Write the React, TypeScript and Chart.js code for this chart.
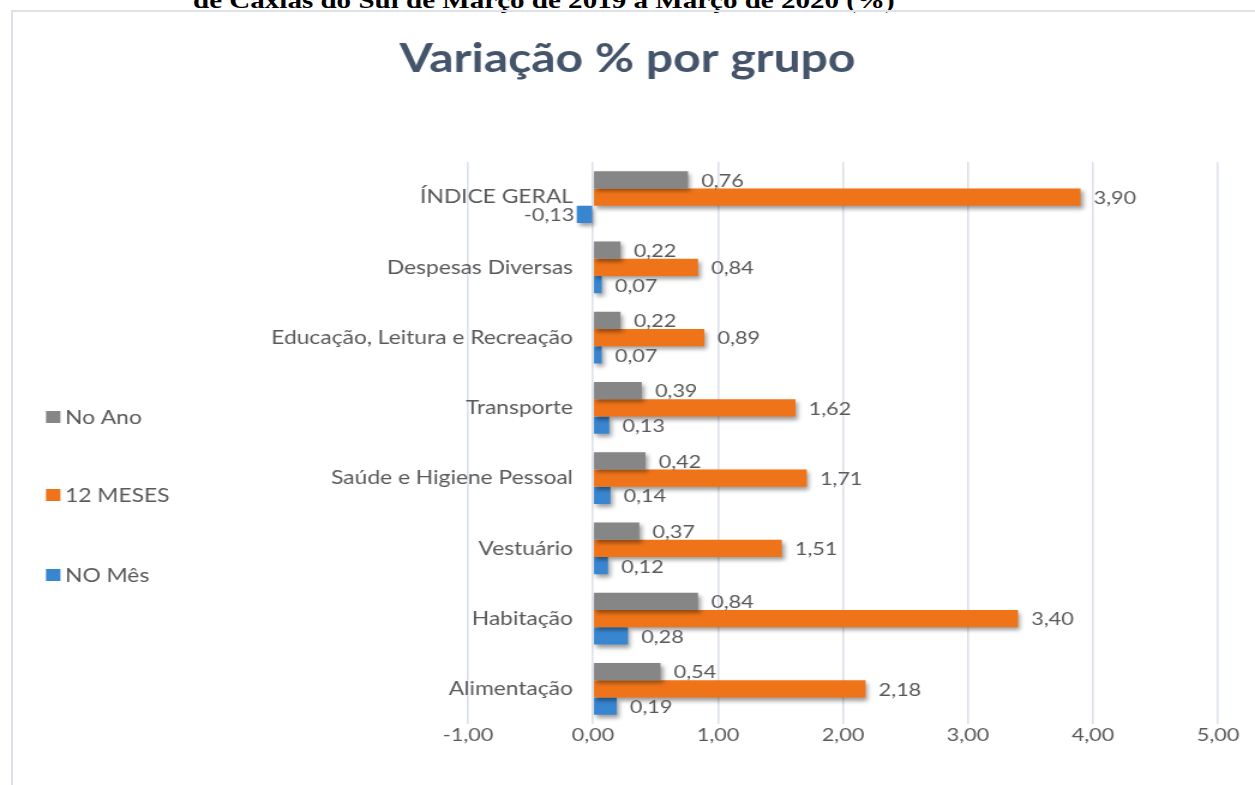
import React, { useEffect, useRef } from "react";
import { Chart, registerables } from "chart.js";

Chart.register(...registerables);

// ---- data ----
const categories = [
  "ÍNDICE GERAL",
  "Despesas Diversas",
  "Educação, Leitura e Recreação",
  "Transporte",
  "Saúde e Higiene Pessoal",
  "Vestuário",
  "Habitação",
  "Alimentação",
];
const seriesNames = ["No Ano", "12 MESES", "NO Mês"];
const noAno = [0.76, 0.22, 0.22, 0.39, 0.42, 0.37, 0.84, 0.54];
const dozeMeses = [3.9, 0.84, 0.89, 1.62, 1.71, 1.51, 3.4, 2.18];
const noMes = [-0.13, 0.07, 0.07, 0.13, 0.14, 0.12, 0.28, 0.19];
const xTicks = [-1, 0, 1, 2, 3, 4, 5];
const chartTitle = "Variação % por grupo";
const headerText = "de Caxias do Sul de Março de 2019 a Março de 2020 (%)";

// ---- layout (canvas drawn narrower, stretched horizontally by CSS) ----
const CW = 1046;
const CH = 785;
const SX = 1255 / CW;
const FONT = "Lato";
const TEXT = "#595959";
const Y_FONT_SIZE = 19;

const fmt = (v: number) => v.toFixed(2).replace(".", ",");

const barShadow = {
  id: "barShadow",
  beforeDatasetsDraw(chart: any) {
    const c = chart.ctx;
    c.save();
    c.shadowColor = "rgba(0,0,0,0.38)";
    c.shadowBlur = 4;
    c.shadowOffsetX = 2;
    c.shadowOffsetY = 3;
  },
  afterDatasetsDraw(chart: any) {
    chart.ctx.restore();
  },
};

const valueLabels = {
  id: "valueLabels",
  afterDatasetsDraw(chart: any) {
    const c = chart.ctx;
    c.save();
    c.shadowColor = "transparent";
    c.font = `18px ${FONT}`;
    c.fillStyle = TEXT;
    c.textBaseline = "middle";
    chart.data.datasets.forEach((ds: any, di: number) => {
      const meta = chart.getDatasetMeta(di);
      meta.data.forEach((el: any, i: number) => {
        const v = ds.data[i] as number;
        const { x, y } = el.getProps(["x", "y"], true);
        if (v >= 0) {
          c.textAlign = "left";
          c.fillText(fmt(v), x + 11, y + 1);
        } else {
          c.textAlign = "right";
          c.fillText(fmt(v), x - 2, y + 1);
        }
      });
    });
    c.restore();
  },
};

const legendYs = [417, 495, 575];
const customLegend = {
  id: "customLegend",
  afterDraw(chart: any) {
    const c = chart.ctx;
    c.save();
    c.font = `19px ${FONT}`;
    c.textBaseline = "middle";
    c.textAlign = "left";
    chart.data.datasets.forEach((ds: any, i: number) => {
      const y = legendYs[i];
      c.fillStyle = ds.backgroundColor;
      c.fillRect(46 / SX, y - 6, 12, 12);
      c.fillStyle = TEXT;
      c.fillText(ds.label, 65 / SX, y + 1);
    });
    c.restore();
  },
};

export default function App() {
  const ref = useRef<HTMLCanvasElement | null>(null);

  useEffect(() => {
    if (!ref.current) return;
    Chart.defaults.font.family = FONT;

    // widest category label, so the mirrored labels end right-aligned at the wanted x
    const m = document.createElement("canvas").getContext("2d")!;
    m.font = `${Y_FONT_SIZE}px ${FONT}`;
    const widest = Math.max(...categories.map((c) => m.measureText(c).width));
    const yAxisWidth = 468 / SX;
    const labelRight = 573 / SX;

    const chart = new Chart(ref.current, {
      type: "bar",
      data: {
        labels: categories,
        datasets: [
          { label: seriesNames[0], data: noAno, backgroundColor: "#868686" },
          { label: seriesNames[1], data: dozeMeses, backgroundColor: "#EF7419" },
          { label: seriesNames[2], data: noMes, backgroundColor: "#3886D0" },
        ],
      },
      options: {
        indexAxis: "y",
        responsive: false,
        animation: false,
        events: [],
        datasets: {
          bar: { categoryPercentage: 0.74, barPercentage: 1 },
        },
        layout: { padding: 0 },
        plugins: {
          legend: { display: false },
          tooltip: { enabled: false },
          title: {
            display: true,
            text: chartTitle,
            color: "#44546A",
            font: { family: FONT, size: 40, weight: "bold", lineHeight: 1.2 },
            padding: { top: 35, bottom: 79 },
          },
        },
        scales: {
          x: {
            type: "linear",
            min: xTicks[0],
            max: xTicks[xTicks.length - 1],
            afterBuildTicks: (s: any) => {
              s.ticks = xTicks.map((v) => ({ value: v }));
            },
            afterFit: (s: any) => {
              s.height = 61;
            },
            ticks: {
              callback: (v: any) => fmt(Number(v)),
              color: TEXT,
              font: { family: FONT, size: 18 },
              padding: 0,
              maxRotation: 0,
            },
            grid: { color: "#DCE1E9", lineWidth: 1.6, drawTicks: false },
            border: { display: false },
          },
          y: {
            position: "left",
            afterFit: (s: any) => {
              s.width = yAxisWidth;
            },
            ticks: {
              color: TEXT,
              font: { family: FONT, size: Y_FONT_SIZE },
              mirror: true,
              crossAlign: "far",
              padding: labelRight - yAxisWidth - widest,
              autoSkip: false,
            },
            grid: { display: false, drawTicks: false },
            border: { display: false },
          },
          yRightSpace: {
            type: "linear",
            position: "right",
            axis: "y",
            display: true,
            afterFit: (s: any) => {
              s.width = CW - 1218 / SX;
            },
            ticks: { display: false },
            grid: { display: false, drawTicks: false },
            border: { display: false },
          },
        },
      },
      plugins: [barShadow, valueLabels, customLegend],
    } as any);
    return () => chart.destroy();
  }, []);

  return (
    <div
      style={{
        position: "fixed",
        left: 0,
        top: 0,
        width: 1255,
        height: 785,
        overflow: "hidden",
        background: "#fff",
      }}
    >
      <div
        style={{
          position: "absolute",
          left: 193,
          top: -12,
          fontFamily: "'Liberation Serif', 'Times New Roman', serif",
          fontWeight: "bold",
          fontSize: 24,
          lineHeight: "24px",
          whiteSpace: "nowrap",
          transform: "scaleX(1.21)",
          transformOrigin: "left top",
          color: "#000",
        }}
      >
        {headerText}
      </div>
      <div
        style={{
          position: "absolute",
          left: 11,
          top: 10,
          width: 1400,
          height: 1000,
          borderTop: "2px solid #DCE1EA",
          borderLeft: "2px solid #DCE1EA",
        }}
      />
      <canvas
        ref={ref}
        width={CW}
        height={CH}
        style={{ position: "absolute", left: 0, top: 0, width: "1255px", height: "785px" }}
      />
    </div>
  );
}
